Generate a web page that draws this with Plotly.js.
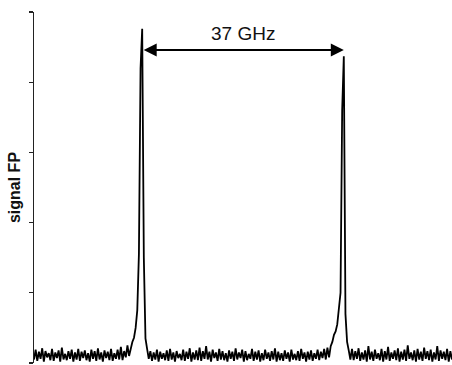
<!DOCTYPE html>
<html>
<head>
<meta charset="utf-8">
<script src="https://cdn.plot.ly/plotly-3.0.1.min.js"></script>
<style>
html,body{margin:0;padding:0;background:#fff;}
#chart{width:452px;height:365px;}
</style>
</head>
<body>
<div id="chart"></div>
<script>
// Sampling grid of the spectrum (GHz)
const freqStart = 0;
const freqStep = 0.3;

// Signal, segment by segment
const noiseLeft = [0.05,0.19,0.03,0.16,0.06,0.21,0.02,0.17,0.08,0.14,0.04,0.2,0.03,0.15,0.07,0.18,0.02,0.22,0.05,0.13,
  0.04,0.17,0.06,0.19,0.02,0.15,0.05,0.2,0.03,0.16,0.07,0.18,0.04,0.14,0.02,0.19,0.06,0.17,0.03,0.21,
  0.05,0.15,0.02,0.18,0.07,0.16,0.04,0.2,0.03,0.14,0.06,0.19,0.05,0.23,0.04,0.17,0.08,0.25,0.1];
const peak1 = [0.22,0.3,0.36,0.5,0.75,1.55,4.2,4.76,1.5,0.35,0.2,0.06];
const noiseMid = [0.17,0.03,0.15,0.05,0.19,0.02,0.16,0.06,0.14,0.04,
  0.18,0.03,0.2,0.05,0.15,0.02,0.17,0.07,0.13,0.04,
  0.19,0.03,0.16,0.06,0.21,0.02,0.15,0.05,0.18,0.04,
  0.22,0.03,0.17,0.06,0.24,0.05,0.16,0.02,0.19,0.07,
  0.15,0.03,0.2,0.05,0.17,0.04,0.14,0.02,0.18,0.06,
  0.16,0.03,0.21,0.05,0.15,0.07,0.19,0.02,0.17,0.04,
  0.13,0.06,0.2,0.03,0.16,0.05,0.18,0.02,0.14,0.04,
  0.19,0.06,0.15,0.03,0.17,0.05,0.21,0.02,0.16,0.04,
  0.14,0.03,0.18,0.06,0.15,0.02,0.19,0.05,0.13,0.04,
  0.17,0.03,0.2,0.06,0.15,0.02,0.16,0.05,0.18,0.03,
  0.14,0.06,0.19,0.04,0.16,0.07,0.2,0.05,0.22,0.08,
  0.24,0.3,0.4];
const peak2 = [0.45,0.55,0.75,1.0,3.6,4.37,0.7,0.3,0.18,0.05,0.2];
const noiseRight = [0.04,0.17,0.06,0.21,0.03,0.15,0.05,0.18,0.02,0.24,
  0.05,0.16,0.03,0.19,0.06,0.14,0.04,0.2,0.02,0.17,
  0.05,0.23,0.03,0.15,0.06,0.18,0.04,0.21,0.02,0.16,
  0.05,0.19,0.03,0.25,0.06,0.15,0.04,0.18,0.02,0.2,
  0.05,0.16,0.03,0.22,0.06,0.17,0.04,0.19,0.02,0.15,
  0.05,0.24,0.03,0.18,0.06,0.16,0.04,0.2,0.02,0.17,0.05];

const peakFreqs = [19.8, 56.7];
const splitLabel = "37 GHz";
const yTicks = [0,1,2,3,4,5];

const signal = [].concat(noiseLeft, peak1, noiseMid, peak2, noiseRight);
const freq = signal.map((_, i) => freqStart + i * freqStep);

const trace = {
  x: freq, y: signal, type: 'scatter', mode: 'lines',
  line: {color: '#000', width: 1.8}, hoverinfo: 'skip'
};

const layout = {
  width: 452, height: 365,
  margin: {l: 34, r: 0, t: 12, b: 2},
  paper_bgcolor: '#fff', plot_bgcolor: '#fff',
  showlegend: false,
  font: {family: 'Liberation Sans, Arial, sans-serif', color: '#000'},
  xaxis: {range: [freqStart, freqStart + (signal.length - 1) * freqStep], showgrid: false, zeroline: false,
    showline: false, ticks: '', showticklabels: false},
  yaxis: {range: [0, 5], tickvals: yTicks, showgrid: false, zeroline: false, showline: true,
    linecolor: '#222', linewidth: 1.5, ticks: 'outside', ticklen: 4, tickwidth: 1.2, tickcolor: '#222',
    showticklabels: false,
    title: {text: '<b>signal FP</b>', font: {size: 16, color: '#111'}, standoff: 4}},
  annotations: [
    {x: peakFreqs[1], y: 4.46, ax: peakFreqs[0], ay: 4.46, xref: 'x', yref: 'y', axref: 'x', ayref: 'y',
      text: '', showarrow: true, arrowhead: 2, startarrowhead: 2, arrowside: 'end+start',
      arrowsize: 1.3, startarrowsize: 1.3, arrowwidth: 2, arrowcolor: '#000'},
    {x: (peakFreqs[0] + peakFreqs[1]) / 2, y: 4.46, xref: 'x', yref: 'y', yanchor: 'bottom', yshift: 4,
      text: splitLabel, showarrow: false, font: {size: 19, color: '#111'}}
  ]
};

Plotly.newPlot('chart', [trace], layout, {staticPlot: true, displayModeBar: false});
</script>
</body>
</html>
